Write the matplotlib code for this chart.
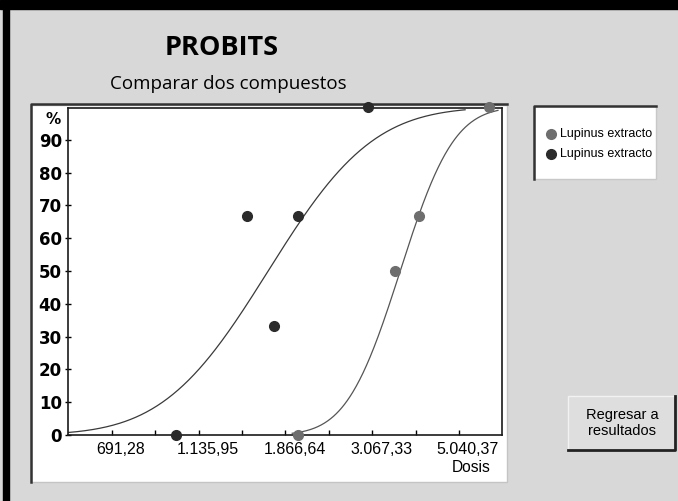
import math
import matplotlib
matplotlib.use("Agg")
import matplotlib.pyplot as plt
import matplotlib.transforms as mtransforms
import numpy as np
from matplotlib.patches import Rectangle
from matplotlib.lines import Line2D

# datos
dose_a = [2000, 3500, 4000, 6000]          # Lupinus extracto (gris)
resp_a = [0, 50, 66.7, 100]
dose_b = [1000, 1500, 1750, 2000, 3000]    # Lupinus extracto (oscuro)
resp_b = [0, 66.7, 33.3, 66.7, 100]

# parametros de las curvas probit (DL50 y sigma en log10)
ld50_a, sigma_a, range_a = 3600, 0.105, (1940, 6300)
ld50_b, sigma_b, range_b = 1690, 0.205, (537, 5220)

tick_vals = [691.28, 1135.95, 1866.64, 3067.33, 5040.37]
tick_labels = ["691,28", "1.135,95", "1.866,64", "3.067,33", "5.040,37"]
y_ticks = [0, 10, 20, 30, 40, 50, 60, 70, 80, 90]
series_names = ["Lupinus extracto", "Lupinus extracto"]

W, H = 678, 501
BG = "#d8d8d8"
GRAY = "#6e6e6e"
DARK = "#2b2b2b"


def fx(px):
    return px / W


def fy(py):
    return 1 - py / H


def probit(d, ld50, sigma):
    z = (np.log10(d) - math.log10(ld50)) / (sigma * math.sqrt(2))
    return 100 * 0.5 * (1 + np.vectorize(math.erf)(z))


fig = plt.figure(figsize=(W / 100, H / 100), dpi=100, facecolor=BG)

# bordes negros de la ventana
fig.patches.append(Rectangle((fx(0), fy(9)), 1, 9 / H, transform=fig.transFigure,
                             color="black", zorder=-2))
fig.patches.append(Rectangle((fx(3), 0), 6 / W, 1, transform=fig.transFigure,
                             color="black", zorder=-2))

# panel blanco del grafico
fig.patches.append(Rectangle((fx(31), fy(482)), 476 / W, 377 / H, transform=fig.transFigure,
                             facecolor="white", edgecolor="#c4c4c4", lw=1, zorder=-2))
fig.lines.append(Line2D([fx(31), fx(31), fx(507)], [fy(482), fy(104), fy(104)],
                        transform=fig.transFigure, color="#333333", lw=1.8, zorder=-1))

# titulos
fig.text(fx(222), fy(48), "PROBITS", fontsize=19.5, fontweight="bold",
         family="Open Sans", ha="center", va="center")
fig.text(fx(228), fy(84), "Comparar dos compuestos", fontsize=13.5,
         family="Open Sans", ha="center", va="center")

ax = fig.add_axes([fx(68), fy(435), 434 / W, 327 / H])
ax.set_facecolor("white")
ax.set_xscale("log")

xa = np.geomspace(range_a[0], range_a[1], 300)
xb = np.geomspace(range_b[0], range_b[1], 300)
ax.plot(xb, probit(xb, ld50_b, sigma_b), color="#3a3a3a", lw=0.9, zorder=2)
ax.plot(xa, probit(xa, ld50_a, sigma_a), color="#555555", lw=0.9, zorder=2)
ax.plot(dose_a, resp_a, "o", color=GRAY, ms=7, clip_on=False, zorder=3)
ax.plot(dose_b, resp_b, "o", color=DARK, ms=7, clip_on=False, zorder=3)

ax.set_xlim(537.3, 6448)
ax.set_ylim(0, 99.7)

minor = [math.sqrt(a * b) for a, b in zip(tick_vals[:-1], tick_vals[1:])]
ax.set_xticks(tick_vals)
ax.set_xticklabels(tick_labels, fontsize=11.5, family="Liberation Sans")
ax.set_xticks(minor, minor=True)
ax.xaxis.set_minor_formatter(plt.NullFormatter())
ax.tick_params(axis="x", which="both", direction="in", length=3.5, width=1, pad=5)
shift = mtransforms.ScaledTranslation(0.09, 0, fig.dpi_scale_trans)
for lab in ax.get_xticklabels():
    lab.set_transform(lab.get_transform() + shift)

ax.set_yticks(y_ticks)
ax.set_yticklabels([str(v) for v in y_ticks], fontsize=12, fontweight="bold",
                   family=["Liberation Sans Narrow", "DejaVu Sans"])
ax.tick_params(axis="y", direction="inout", length=5, width=1, pad=2)
for s in ax.spines.values():
    s.set_linewidth(1.2)
    s.set_color("#1a1a1a")

ax.text(-0.035, 0.965, "%", transform=ax.transAxes, fontsize=11, fontweight="bold",
        family=["Liberation Sans Narrow", "DejaVu Sans"], ha="center", va="center")
fig.text(fx(471), fy(467), "Dosis", fontsize=11.2, family="Liberation Sans",
         ha="center", va="center")

# leyenda
fig.patches.append(Rectangle((fx(534), fy(179)), 122 / W, 73 / H, transform=fig.transFigure,
                             facecolor="white", edgecolor="#c8c8c8", lw=1, zorder=-2))
fig.lines.append(Line2D([fx(534), fx(534), fx(656)], [fy(179), fy(106), fy(106)],
                        transform=fig.transFigure, color="#333333", lw=1.8, zorder=-1))
for i, (name, col) in enumerate(zip(series_names, [GRAY, DARK])):
    y = fy(134 + 20 * i)
    fig.lines.append(Line2D([fx(551)], [y], transform=fig.transFigure, marker="o",
                            color=col, ms=7, ls="none"))
    fig.text(fx(560), y, name, fontsize=9, family="Liberation Sans", ha="left", va="center")

# boton
fig.patches.append(Rectangle((fx(568), fy(450)), 107 / W, 54 / H, transform=fig.transFigure,
                             facecolor="#dedede", edgecolor="#f2f2f2", lw=1, zorder=-2))
fig.lines.append(Line2D([fx(568), fx(675), fx(675)], [fy(450), fy(450), fy(396)],
                        transform=fig.transFigure, color="#222222", lw=2, zorder=-1))
fig.text(fx(622), fy(423), "Regresar a\nresultados", fontsize=10.5, family="Liberation Sans",
         ha="center", va="center", linespacing=1.1)

fig.savefig("out.png", dpi=100, facecolor=BG)
